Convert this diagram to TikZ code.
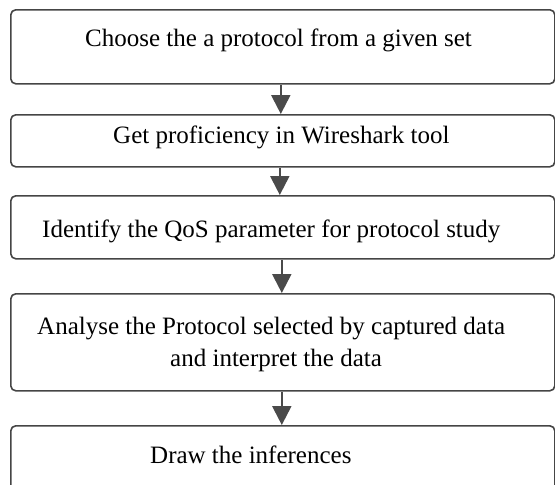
\documentclass[tikz,border=0pt]{standalone}
\usepackage{fontspec}
\setmainfont{Liberation Serif}
\usetikzlibrary{arrows.meta}
\definecolor{boxgray}{HTML}{454545}
\definecolor{arrowgray}{HTML}{4A4A4A}
\begin{document}
\begin{tikzpicture}[x=1pt,y=-1pt,
  stepbox/.style={draw=boxgray, line width=1.6pt, rounded corners=5pt,
    minimum width=544pt, inner sep=0pt, anchor=north west},
  steptext/.style={anchor=base west, inner sep=0pt,
    font=\fontsize{25}{32}\selectfont},
  flow/.style={draw=arrowgray, line width=2.2pt,
    -{Triangle[length=19pt,width=19pt]}, fill=arrowgray}]
  \useasboundingbox (0,0) rectangle (555,485);
  \clip (0,0) rectangle (555,485);

  % process boxes
  \node[stepbox, minimum height=74pt] (b1) at (10,9) {};
  \node[stepbox, minimum height=52pt] (b2) at (10,114) {};
  \node[stepbox, minimum height=63pt] (b3) at (10,195) {};
  \node[stepbox, minimum height=97pt] (b4) at (10,293) {};
  \node[stepbox, minimum height=90pt] (b5) at (10,425) {};

  % box captions
  \node[steptext] (t1) at (85,46) {Choose the a protocol from a given set};
  \node[steptext] (t2) at (113,143) {Get proficiency in Wireshark tool};
  \node[steptext] (t3) at (42,237) {Identify the QoS parameter for protocol study};
  \node[steptext] (t4a) at (37,334) {Analyse the Protocol selected by captured data};
  \node[steptext] (t4b) at (170,366) {and interpret the data};
  \node[steptext] (t5) at (150,463) {Draw the inferences};

  % flow arrows
  \draw[flow] ([xshift=-2pt]b1.south) -- ([xshift=-2pt]b2.north);
  \draw[flow] ([xshift=-3pt]b2.south) -- ([xshift=-3pt]b3.north);
  \draw[flow] ([xshift=-1pt]b3.south) -- ([xshift=-1pt]b4.north);
  \draw[flow] ([xshift=-1pt]b4.south) -- ([xshift=-1pt]b5.north);
\end{tikzpicture}
\end{document}
